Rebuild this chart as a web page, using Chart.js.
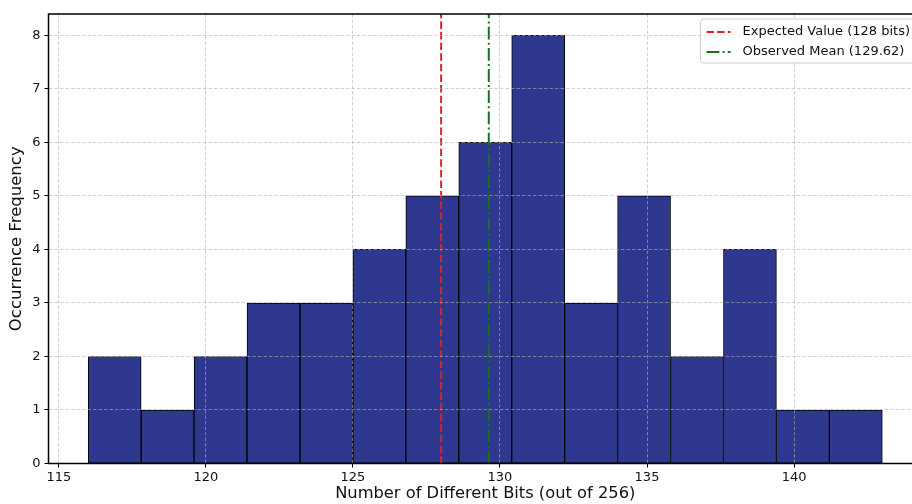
<!DOCTYPE html>
<html>
<head>
<meta charset="utf-8">
<script src="https://cdn.jsdelivr.net/npm/chart.js@4.4.1/dist/chart.umd.min.js"></script>
<style>
  html, body { margin: 0; padding: 0; background: #fff; overflow: hidden; }
  #wrap { width: 912px; height: 504px; overflow: hidden; }
</style>
</head>
<body>
<div id="wrap"><canvas id="c" width="930" height="504"></canvas></div>
<script>
// histogram bins (edges) and counts
var binEdges = [116, 117.8, 119.6, 121.4, 123.2, 125, 126.8, 128.6, 130.4, 132.2, 134, 135.8, 137.6, 139.4, 141.2, 143];
var counts = [2, 1, 2, 3, 3, 4, 5, 6, 8, 3, 5, 2, 4, 1, 1];
var expectedValue = 128;
var observedMean = 129.62;
var xTicks = [115, 120, 125, 130, 135, 140];
var yTicks = [0, 1, 2, 3, 4, 5, 6, 7, 8];

var xMin = 114.65, xMax = 144.35, yMax = 8.4;

var barData = counts.map(function (c, i) {
    return { x: (binEdges[i] + binEdges[i + 1]) / 2, y: c };
});

var gridColor = 'rgba(176,176,176,0.75)';
var font = "'DejaVu Sans', sans-serif";

// spines + legend drawn inside the axes, like matplotlib
var extras = {
    id: 'extras',
    afterDraw: function (chart) {
        var ctx = chart.ctx, a = chart.chartArea;
        ctx.save();
        ctx.strokeStyle = '#000';
        ctx.lineWidth = 1.5;
        ctx.beginPath();
        ctx.moveTo(a.right, a.top);
        ctx.lineTo(a.left, a.top);
        ctx.lineTo(a.left, a.bottom);
        ctx.lineTo(a.right, a.bottom);
        ctx.stroke();

        var items = chart.data.datasets.filter(function (d) { return d.type === 'line'; });
        ctx.font = '13px ' + font;
        var tw = 0;
        items.forEach(function (d) { tw = Math.max(tw, ctx.measureText(d.label).width); });
        var w = 42 + tw + 6, h = 44;
        var x0 = a.right - 6 - w, y0 = a.top + 5;
        ctx.fillStyle = 'rgba(255,255,255,0.85)';
        ctx.strokeStyle = '#cccccc';
        ctx.lineWidth = 1;
        ctx.beginPath();
        ctx.roundRect(x0, y0, w, h, 3);
        ctx.fill();
        ctx.stroke();
        items.forEach(function (d, i) {
            var yy = y0 + 13 + i * 20;
            ctx.strokeStyle = d.borderColor;
            ctx.lineWidth = d.borderWidth;
            ctx.setLineDash(d.borderDash);
            ctx.beginPath();
            ctx.moveTo(x0 + 6, yy);
            ctx.lineTo(x0 + 30, yy);
            ctx.stroke();
            ctx.setLineDash([]);
            ctx.fillStyle = '#111';
            ctx.textBaseline = 'middle';
            ctx.fillText(d.label, x0 + 42, yy);
        });
        ctx.restore();
    }
};

new Chart(document.getElementById('c').getContext('2d'), {
    type: 'bar',
    data: {
        datasets: [
            {
                type: 'bar',
                label: 'Frequency',
                data: barData,
                backgroundColor: '#2e388e',
                borderColor: '#000',
                borderWidth: 1,
                borderSkipped: false,
                barPercentage: 1,
                categoryPercentage: 1,
                order: 2
            },
            {
                type: 'line',
                label: 'Expected Value (' + expectedValue + ' bits)',
                data: [{ x: expectedValue, y: 0 }, { x: expectedValue, y: yMax }],
                borderColor: '#d62728',
                borderWidth: 2,
                borderDash: [7.4, 3.2],
                pointRadius: 0,
                fill: false,
                order: 1
            },
            {
                type: 'line',
                label: 'Observed Mean (' + observedMean + ')',
                data: [{ x: observedMean, y: 0 }, { x: observedMean, y: yMax }],
                borderColor: '#1b6e26',
                borderWidth: 2,
                borderDash: [12.8, 3.2, 2, 3.2],
                pointRadius: 0,
                fill: false,
                order: 0
            }
        ]
    },
    options: {
        responsive: false,
        animation: false,
        layout: { padding: { left: 0, top: 14, right: 8, bottom: 0 } },
        plugins: {
            legend: { display: false },
            tooltip: { enabled: false }
        },
        scales: {
            x: {
                type: 'linear',
                min: xMin,
                max: xMax,
                offset: false,
                afterFit: function (s) { s.height = 40.5; },
                afterBuildTicks: function (s) { s.ticks = xTicks.map(function (v) { return { value: v }; }); },
                grid: { offset: false, color: gridColor, lineWidth: 0.8, z: 1, drawTicks: true, tickLength: 4, tickColor: '#000', tickWidth: 1 },
                border: { display: false, dash: [3.5, 2] },
                ticks: { color: '#111', font: { family: font, size: 13 }, padding: 2, maxRotation: 0, includeBounds: false },
                title: { display: true, text: 'Number of Different Bits (out of 256)', color: '#111', font: { family: font, size: 16.3 }, padding: { top: 0, bottom: 0 } }
            },
            y: {
                min: 0,
                max: yMax,
                afterFit: function (s) { s.width = 48.5; },
                afterBuildTicks: function (s) { s.ticks = yTicks.map(function (v) { return { value: v }; }); },
                grid: { color: gridColor, lineWidth: 0.8, z: 1, drawTicks: true, tickLength: 4, tickColor: '#000', tickWidth: 1 },
                border: { display: false, dash: [3.5, 2] },
                ticks: { color: '#111', font: { family: font, size: 13 }, padding: 4, includeBounds: false },
                title: { display: true, text: 'Occurrence Frequency', color: '#111', font: { family: font, size: 16.5 }, padding: { top: 7, bottom: 0 } }
            }
        }
    },
    plugins: [extras]
});
</script>
</body>
</html>
